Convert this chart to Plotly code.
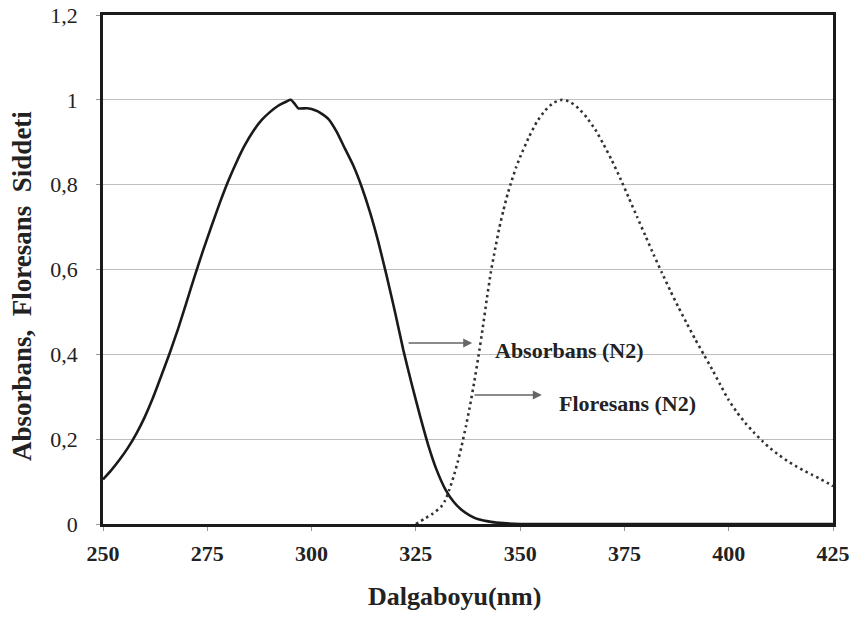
import plotly.graph_objects as go

# Absorbance spectrum (solid)
abs_wl = [250, 252, 254, 256, 258, 260, 262, 264, 266, 268, 270, 272, 274, 276, 278, 280, 282,
          284, 286, 288, 290, 292, 294, 295, 296, 296.8, 299, 301, 302, 304, 306, 308, 310,
          312, 314, 316, 318, 320, 322, 324, 326, 328, 330, 332, 334, 336, 338, 340, 343, 346,
          350, 360, 380, 400, 425]
abs_val = [0.105, 0.127, 0.152, 0.18, 0.213, 0.252, 0.298, 0.35, 0.403, 0.46, 0.522, 0.585, 0.645,
           0.702, 0.757, 0.808, 0.853, 0.893, 0.926, 0.952, 0.971, 0.986, 0.996, 1.0, 0.99, 0.98,
           0.98, 0.975, 0.97, 0.955, 0.925, 0.885, 0.845, 0.795, 0.735, 0.665, 0.585, 0.5,
           0.41, 0.33, 0.255, 0.185, 0.127, 0.083, 0.053, 0.033, 0.02, 0.011, 0.005, 0.002, 0.0,
           0.0, 0.0, 0.0, 0.0]

# Fluorescence spectrum (dotted)
flu_wl = [325, 327, 329, 331, 332, 333, 334, 335, 336, 337, 338, 339, 340, 341, 342, 343, 344,
          345, 346, 347, 348, 349, 350, 352, 354, 356, 358, 360, 362, 364, 366, 368, 370, 372,
          374, 376, 378, 380, 382, 384, 386, 388, 390, 392, 394, 396, 398, 400, 402, 404, 406,
          408, 410, 412, 414, 416, 418, 420, 422, 424, 425]
flu_val = [0.0, 0.012, 0.024, 0.04, 0.055, 0.08, 0.11, 0.145, 0.185, 0.23, 0.28, 0.335, 0.395,
           0.46, 0.53, 0.595, 0.648, 0.698, 0.74, 0.778, 0.81, 0.84, 0.865, 0.91, 0.948, 0.975,
           0.993, 1.0, 0.995, 0.98, 0.958, 0.93, 0.895, 0.857, 0.815, 0.77, 0.725, 0.68, 0.635,
           0.592, 0.55, 0.51, 0.472, 0.435, 0.4, 0.365, 0.328, 0.292, 0.263, 0.238, 0.216, 0.196,
           0.178, 0.163, 0.149, 0.137, 0.126, 0.116, 0.106, 0.095, 0.089]

x_ticks = [250, 275, 300, 325, 350, 375, 400, 425]
y_ticks = [0, 0.2, 0.4, 0.6, 0.8, 1.0, 1.2]
y_tick_text = ["0", "0,2", "0,4", "0,6", "0,8", "1", "1,2"]

SERIF = "Liberation Serif, Times New Roman, serif"

fig = go.Figure()
fig.add_trace(go.Scatter(x=abs_wl, y=abs_val, mode="lines", name="Absorbans (N2)",
                         line=dict(color="#1a1a1a", width=2.6, shape="spline", smoothing=0.5)))
fig.add_trace(go.Scatter(x=flu_wl, y=flu_val, mode="lines", name="Floresans (N2)",
                         line=dict(color="#333333", width=2.6, dash="2.5px,3.5px",
                                   shape="spline", smoothing=0.5)))

# labels with arrows
fig.add_annotation(x=343.5, y=0.41, xref="x", yref="y", text="<b>Absorbans (N2)</b>",
                   showarrow=False, xanchor="left", yanchor="middle",
                   font=dict(family=SERIF, size=22, color="#222"))
fig.add_annotation(x=358.8, y=0.285, xref="x", yref="y", text="<b>Floresans (N2)</b>",
                   showarrow=False, xanchor="left", yanchor="middle",
                   font=dict(family=SERIF, size=22, color="#222"))
fig.add_annotation(x=338.5, y=0.427, ax=322.9, ay=0.427, xref="x", yref="y", axref="x", ayref="y",
                   text="", showarrow=True, arrowhead=2, arrowsize=1.2, arrowwidth=1.5,
                   arrowcolor="#666")
fig.add_annotation(x=355.2, y=0.304, ax=338.7, ay=0.304, xref="x", yref="y", axref="x", ayref="y",
                   text="", showarrow=True, arrowhead=2, arrowsize=1.2, arrowwidth=1.5,
                   arrowcolor="#666")

# axis titles
fig.add_annotation(x=0.481, y=-0.1434, xref="paper", yref="paper",
                   text="<b>Dalgaboyu(nm)</b>", showarrow=False,
                   xanchor="center", yanchor="middle",
                   font=dict(family=SERIF, size=26, color="#222"))
fig.add_annotation(x=-0.111, y=0.4676, xref="paper", yref="paper",
                   text="<b>Absorbans,\u00a0 Floresans\u00a0 Siddeti</b>", showarrow=False,
                   textangle=-90, xanchor="center", yanchor="middle",
                   font=dict(family=SERIF, size=27, color="#222"))

fig.update_layout(
    width=857, height=618,
    margin=dict(l=103, r=24, t=15, b=94),
    paper_bgcolor="white", plot_bgcolor="white",
    showlegend=False,
    font=dict(family=SERIF, color="#222"),
)
fig.update_xaxes(
    range=[250, 425], tickvals=x_ticks, ticktext=[f"<b>{v}</b>" for v in x_ticks],
    tickfont=dict(family=SERIF, size=22, color="#222"),
    showgrid=False, zeroline=False, automargin=False,
    showline=True, mirror=True, linecolor="#1a1a1a", linewidth=2.5,
    ticks="outside", ticklen=4, tickcolor="#999", tickwidth=1,
    ticklabelstandoff=4,
)
fig.update_yaxes(
    range=[0, 1.2], tickvals=y_ticks, ticktext=y_tick_text,
    tickfont=dict(family=SERIF, size=22, color="#222"),
    showgrid=True, gridcolor="#bdbdbd", gridwidth=1, zeroline=False, automargin=False,
    showline=True, mirror=True, linecolor="#1a1a1a", linewidth=2.5,
    ticks="outside", ticklen=4, tickcolor="#999", tickwidth=1,
    ticklabelstandoff=14,
)

fig.write_html("out.html")
